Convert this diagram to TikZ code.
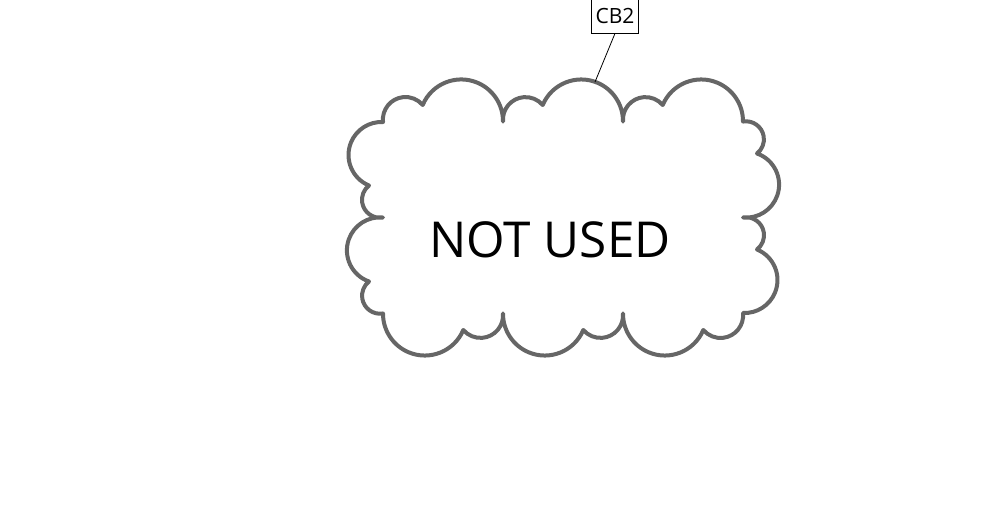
\documentclass[tikz,border=0pt]{standalone}
\usepackage{fontspec}
\setmainfont{Open Sans}
\usetikzlibrary{svg.path}
\definecolor{cloudgray}{HTML}{666666}
\tikzset{
  cloudline/.style={draw=cloudgray, line width=4pt, line join=round, fill=white},
  labelbox/.style={draw=black, line width=0.8pt, fill=white, inner sep=0pt,
    minimum width=46.6pt, minimum height=34pt, font=\fontsize{21}{25}\selectfont},
  bigtext/.style={inner sep=0pt, font=\fontsize{49.5}{59}\selectfont},
  leader/.style={draw=black, line width=0.8pt}
}
\begin{document}
\begin{tikzpicture}[x=1pt, y=-1pt]
\useasboundingbox (0,0) rectangle (1002,508);
\begin{scope}[shift={(563,217.5)}, yscale=-1]
\path[cloudline] svg {M -180 -95.5
A 22.6 22.6 0 0 1 -140.3 -112.5
A 41.8 41.8 0 0 1 -60 -95.5
A 22.6 22.6 0 0 1 -20.3 -112.5
A 41.8 41.8 0 0 1 60 -95.5
A 22.6 22.6 0 0 1 99.7 -112.5
A 41.8 41.8 0 0 1 180 -95.5
A 18 18 0 0 1 194 -64
A 33 33 0 0 1 180 0
A 18 18 0 0 1 194 32
A 33 33 0 0 1 180 95.5
A 22.6 22.6 0 0 1 140.3 112.5
A 41.8 41.8 0 0 1 60 95.5
A 22.6 22.6 0 0 1 20.3 112.5
A 41.8 41.8 0 0 1 -60 95.5
A 22.6 22.6 0 0 1 -99.7 112.5
A 41.8 41.8 0 0 1 -180 95.5
A 18 18 0 0 1 -194 64
A 33 33 0 0 1 -180 0
A 18 18 0 0 1 -194 -32
A 33 33 0 0 1 -180 -95.5 Z};
\end{scope}
\node[bigtext, anchor=base] (txt) at (550,257.3) {NOT USED};
\coordinate (cloudpt) at (595,82);
\node[labelbox] (cb2) at (615,16) {CB2};
\draw[leader] (cb2.south) -- (cloudpt);
\end{tikzpicture}
\end{document}
